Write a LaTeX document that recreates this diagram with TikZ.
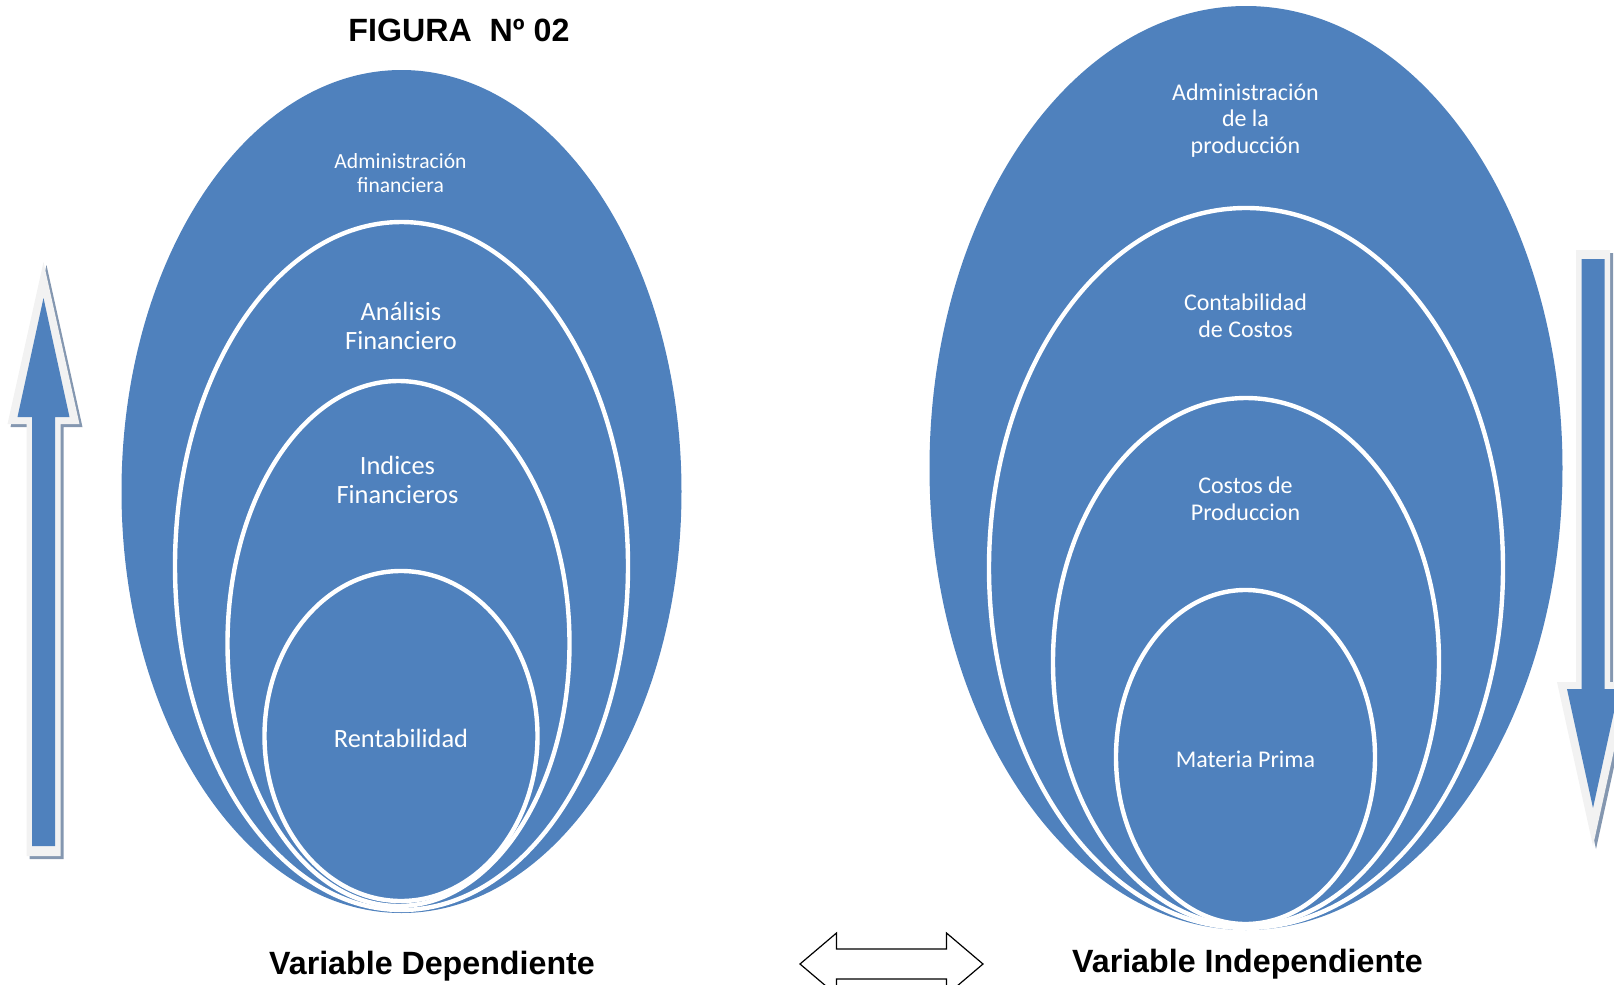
\documentclass[tikz,border=0pt]{standalone}
\usepackage{fontspec}
\setmainfont{Liberation Sans}
\newfontfamily\calibri{Carlito}
\usetikzlibrary{shapes.geometric, positioning}
\definecolor{ovalblue}{HTML}{4F81BD}
\definecolor{rimgray}{HTML}{F2F2F2}
\definecolor{shadegray}{HTML}{8497B0}

\begin{document}
\begin{tikzpicture}[
    x=0.5pt, y=-0.5pt,
    oval/.style={ellipse, fill=ovalblue, inner sep=0pt, outer sep=0pt},
    ring/.style={oval, draw=white, line width=2.2pt},
    intxt/.style={text=white, align=center, inner sep=0pt},
    smalltxt/.style={intxt, font=\calibri\fontsize{10.8}{12.2}\selectfont},
    bigtxt/.style={intxt, font=\calibri\fontsize{13.2}{14.5}\selectfont},
    righttxt/.style={intxt, font=\calibri\fontsize{12}{13.4}\selectfont},
    caption/.style={font=\bfseries\fontsize{16.1}{18}\selectfont, inner sep=0pt},
    rim/.style={fill=rimgray},
    shade/.style={fill=shadegray}
]
\useasboundingbox (0,0) rectangle (1614,985);
\clip (0,0) rectangle (1614,985);

%% Title
\node[caption] (title) at (459,30) {FIGURA\ \ Nº 02};

%% Left ovals (dependent variable)
\node[oval, minimum width=280pt, minimum height=421.5pt] (l1) at (401.5,491.5) {};
\node[ring, minimum width=226.5pt, minimum height=344pt] (l2) at (401.5,566) {};
\node[ring, minimum width=171pt, minimum height=262.5pt] (l3) at (398.5,643.5) {};
\node[ring, minimum width=136.5pt, minimum height=165pt] (l4) at (401,736) {};

\node[smalltxt] (t1) at (400.5,173) {Administración\\financiera};
\node[bigtxt]   (t2) at (401,326) {Análisis\\Financiero};
\node[bigtxt]   (t3) at (397.5,480) {Indices\\Financieros};
\node[bigtxt]   (t4) at (401,738) {Rentabilidad};

%% Right ovals (independent variable)
\node[oval, minimum width=316.5pt, minimum height=462pt] (r1) at (1246,468) {};
\node[ring, minimum width=257pt, minimum height=360pt] (r2) at (1246,568) {};
\node[ring, minimum width=193pt, minimum height=264pt] (r3) at (1246,662) {};
\node[ring, minimum width=129.5pt, minimum height=167pt] (r4) at (1245.5,757) {};

\node[righttxt] (s1) at (1245.5,120.5) {Administración\\de la\\producción};
\node[righttxt] (s2) at (1245.5,315.5) {Contabilidad\\de Costos};
\node[righttxt] (s3) at (1245.5,499) {Costos de\\Produccion};
\node[righttxt] (s4) at (1245.5,759) {Materia Prima};

%% Up arrow (left)
\fill[shade, shift={(3,3)}] (43.5,262) -- (79.5,424) -- (60.5,424) -- (60.5,856)
    -- (26.5,856) -- (26.5,424) -- (7.5,424) -- cycle;
\fill[rim] (43.5,262) -- (79.5,424) -- (60.5,424) -- (60.5,856)
    -- (26.5,856) -- (26.5,424) -- (7.5,424) -- cycle;
\fill[ovalblue] (43.5,298) -- (69.5,417) -- (55,417) -- (55,846)
    -- (32,846) -- (32,417) -- (17.5,417) -- cycle;

%% Down arrow (right)
\fill[shade, shift={(3,3)}] (1576,250) -- (1610,250) -- (1610,682) -- (1629,682)
    -- (1593,846) -- (1557,682) -- (1576,682) -- cycle;
\fill[rim] (1576,250) -- (1610,250) -- (1610,682) -- (1629,682)
    -- (1593,846) -- (1557,682) -- (1576,682) -- cycle;
\fill[ovalblue] (1581.5,259) -- (1604.5,259) -- (1604.5,689) -- (1619,689)
    -- (1593,808) -- (1567,689) -- (1581.5,689) -- cycle;

%% Double arrow between the variables
\draw[fill=white, line width=0.6pt, line join=miter] (800,964) -- (836.5,933) -- (836.5,949)
    -- (946.5,949) -- (946.5,933) -- (983,964) -- (946.5,995) -- (946.5,979)
    -- (836.5,979) -- (836.5,995) -- cycle;

%% Captions
\node[caption] (dep) at (432,966) {Variable Dependiente};
\node[caption] (indep) at (1247.5,964) {Variable Independiente};

\end{tikzpicture}
\end{document}
